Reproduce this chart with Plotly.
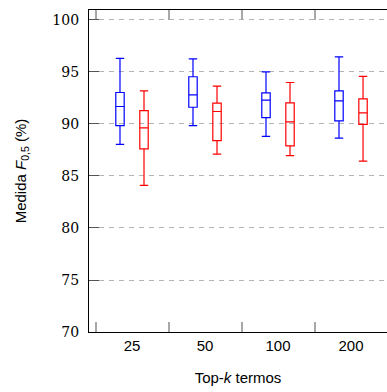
import plotly.graph_objects as go

categories = ["25", "50", "100", "200"]

blue_upper = [96.3, 96.27, 95.02, 96.46]
blue_q3 = [93.03, 94.54, 93.0, 93.19]
blue_median = [91.68, 92.8, 92.29, 92.22]
blue_q1 = [89.84, 91.61, 90.62, 90.29]
blue_lower = [88.04, 89.84, 88.81, 88.65]

red_upper = [93.19, 93.64, 93.99, 94.57]
red_q3 = [91.29, 92.0, 92.03, 92.41]
red_median = [89.62, 91.2, 90.2, 91.06]
red_q1 = [87.6, 88.4, 87.9, 89.97]
red_lower = [84.09, 87.11, 86.95, 86.43]

y_ticks = [70, 75, 80, 85, 90, 95, 100]

fig = go.Figure()


def add_box(color, q1, med, q3, lo, hi, name):
    fig.add_trace(go.Box(
        x=categories, q1=q1, median=med, q3=q3,
        lowerfence=lo, upperfence=hi,
        name=name, boxpoints=False, whiskerwidth=1,
        line=dict(color=color, width=1.2),
        fillcolor="rgba(255,255,255,0)",
        showlegend=False,
    ))


add_box("#0000ff", blue_q1, blue_median, blue_q3, blue_lower, blue_upper, "A")
add_box("#ff0000", red_q1, red_median, red_q3, red_lower, red_upper, "B")

fig.update_layout(
    width=387, height=392,
    margin=dict(l=89, r=0, t=10, b=60),
    paper_bgcolor="white", plot_bgcolor="white",
    boxmode="group", boxgap=0.342, boxgroupgap=0.65,
    font=dict(family="Liberation Sans, Arial, sans-serif", size=15, color="black"),
)

fig.update_xaxes(
    type="category", range=[-0.589, 3.493],
    tickson="boundaries", ticks="inside", ticklen=10, tickwidth=1.5,
    tickcolor="#a8a8a8",
    showline=True, linecolor="black", linewidth=1.2, mirror="ticks",
    showgrid=False, zeroline=False,
    tickfont=dict(family="Liberation Sans, Arial, sans-serif", size=15),
    title=dict(text="Top-<i>k</i> termos", standoff=19,
               font=dict(family="Liberation Sans, Arial, sans-serif", size=15)),
)

fig.update_yaxes(
    range=[70, 100.96], tickvals=y_ticks,
    ticks="inside", ticklen=10, tickwidth=1, tickcolor="#555555",
    showline=True, linecolor="black", linewidth=1.2, mirror=False,
    showgrid=True, gridcolor="#b4b4b4", gridwidth=1, griddash="5px,5px",
    zeroline=False,
    tickfont=dict(family="DejaVu Serif, serif", size=14),
    ticklabelstandoff=6,
    title=dict(text="Medida <i>F</i><sub>0,5</sub> (%)", standoff=22,
               font=dict(family="Liberation Sans, Arial, sans-serif", size=15)),
)

fig.write_html("out.html")
